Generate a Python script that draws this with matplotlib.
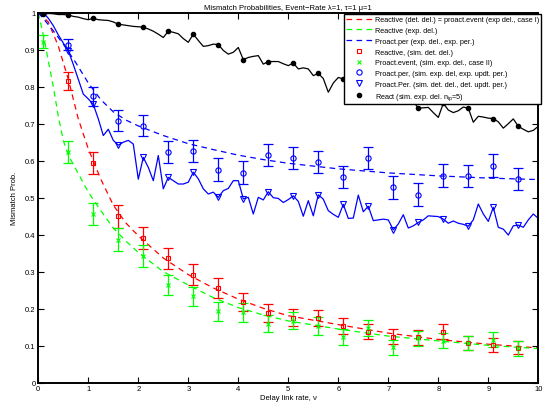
import matplotlib
matplotlib.use("Agg")
import matplotlib.pyplot as plt
import numpy as np

# ---------------- data ----------------
x_sim = [0.1, 0.6, 1.1, 1.6, 2.1, 2.6, 3.1, 3.6, 4.1, 4.6, 5.1, 5.6, 6.1, 6.6, 7.1, 7.6, 8.1, 8.6, 9.1, 9.6]

# analytic curves
x_red_th = [0, 0.2, 0.4, 0.6, 0.8, 1.0, 1.25, 1.5, 1.75, 2.0, 2.5, 3.0, 3.5, 4.0, 4.5, 5.0, 6.0, 7.0, 8.0, 9.0, 10.0]
y_red_th = [1.0, 0.975, 0.91, 0.82, 0.713, 0.632, 0.55, 0.48, 0.432, 0.397, 0.337, 0.292, 0.256, 0.226, 0.201, 0.181, 0.157, 0.134, 0.117, 0.104, 0.094]

x_green_th = [0, 0.1, 0.2, 0.3, 0.4, 0.5, 0.6, 0.8, 1.0, 1.25, 1.5, 1.75, 2.0, 2.5, 3.0, 3.5, 4.0, 4.5, 5.0, 6.0, 7.0, 8.0, 9.0, 10.0]
y_green_th = [1.0, 0.94, 0.87, 0.8, 0.72, 0.655, 0.615, 0.565, 0.515, 0.465, 0.418, 0.383, 0.352, 0.3, 0.264, 0.23, 0.203, 0.183, 0.167, 0.145, 0.126, 0.113, 0.101, 0.092]

x_blue_th = [0, 0.25, 0.5, 0.75, 1.0, 1.25, 1.5, 1.75, 2.0, 2.5, 3.0, 3.5, 4.0, 4.5, 5.0, 6.0, 7.0, 8.0, 9.0, 10.0]
y_blue_th = [1.0, 0.96, 0.915, 0.865, 0.81, 0.765, 0.732, 0.71, 0.694, 0.668, 0.646, 0.63, 0.615, 0.603, 0.593, 0.578, 0.567, 0.559, 0.553, 0.549]

# simulations with error bars
x_red_sim = x_sim[1:]
y_red_sim = [0.815, 0.594, 0.450, 0.391, 0.336, 0.292, 0.256, 0.218, 0.189, 0.175, 0.175, 0.153, 0.138, 0.124, 0.123, 0.138, 0.108, 0.102, 0.095]
e_red_sim = [0.025, 0.03, 0.031, 0.03, 0.029, 0.028, 0.027, 0.025, 0.024, 0.023, 0.022, 0.022, 0.021, 0.02, 0.02, 0.02, 0.019, 0.019, 0.018]

y_green_sim = [0.922, 0.623, 0.456, 0.387, 0.343, 0.265, 0.233, 0.193, 0.190, 0.159, 0.168, 0.154, 0.123, 0.147, 0.096, 0.120, 0.114, 0.108, 0.116, 0.093]
e_green_sim = [0.017, 0.03, 0.031, 0.03, 0.03, 0.027, 0.026, 0.025, 0.025, 0.023, 0.023, 0.024, 0.022, 0.022, 0.02, 0.021, 0.02, 0.019, 0.02, 0.02]

y_blue_sim = [1.0, 0.914, 0.774, 0.708, 0.695, 0.623, 0.626, 0.575, 0.568, 0.616, 0.607, 0.597, 0.557, 0.607, 0.528, 0.508, 0.559, 0.559, 0.587, 0.551]
e_blue_sim = [0.0, 0.015, 0.025, 0.029, 0.029, 0.03, 0.03, 0.031, 0.031, 0.03, 0.03, 0.03, 0.03, 0.03, 0.031, 0.031, 0.031, 0.03, 0.03, 0.03]

# simulated curves on a fine grid
x_fine = [round(0.1 * k, 1) for k in range(1, 101)]
y_blue_det = [1.0, 0.985, 0.965, 0.94, 0.918, 0.897, 0.86, 0.82, 0.78, 0.767,
              0.752, 0.713, 0.668, 0.685, 0.655, 0.642, 0.65, 0.655, 0.645, 0.55,
              0.609, 0.582, 0.546, 0.614, 0.524, 0.555, 0.546, 0.537, 0.537, 0.542,
              0.569, 0.551, 0.524, 0.51, 0.515, 0.501, 0.519, 0.525, 0.546, 0.546,
              0.497, 0.501, 0.456, 0.501, 0.494, 0.516, 0.50, 0.498, 0.487, 0.495,
              0.505, 0.49, 0.45, 0.492, 0.451, 0.508, 0.496, 0.465, 0.455, 0.447,
              0.482, 0.444, 0.445, 0.507, 0.462, 0.477, 0.438, 0.44, 0.442, 0.44,
              0.413, 0.429, 0.454, 0.418, 0.424, 0.433, 0.44, 0.451, 0.45, 0.449,
              0.442, 0.431, 0.437, 0.431, 0.428, 0.423, 0.44, 0.483, 0.456, 0.436,
              0.474, 0.42, 0.415, 0.399, 0.424, 0.426, 0.42, 0.44, 0.456, 0.444]
y_black = [0.997, 0.998, 0.997, 0.995, 0.995, 0.994, 0.99, 0.988, 0.984, 0.981,
           0.985, 0.981, 0.980, 0.979, 0.975, 0.969, 0.967, 0.965, 0.963, 0.962,
           0.961, 0.956, 0.950, 0.942, 0.933, 0.950, 0.947, 0.943, 0.93, 0.920,
           0.942, 0.925, 0.909, 0.911, 0.915, 0.914, 0.898, 0.888, 0.893, 0.906,
           0.873, 0.879, 0.882, 0.884, 0.861, 0.868, 0.868, 0.868, 0.862, 0.857,
           0.864, 0.848, 0.851, 0.848, 0.830, 0.836, 0.822, 0.785, 0.81, 0.825,
           0.821, 0.815, 0.80, 0.81, 0.79, 0.80, 0.785, 0.79, 0.775, 0.78,
           0.77, 0.775, 0.768, 0.765, 0.76, 0.742, 0.743, 0.744, 0.73, 0.717,
           0.755, 0.737, 0.73, 0.735, 0.745, 0.742, 0.704, 0.72, 0.718, 0.715,
           0.714, 0.705, 0.688, 0.70, 0.713, 0.693, 0.685, 0.678, 0.682, 0.693]

# markers on the simulated curves (every 0.5 starting at 0.1)
y_blue_tri = [y_blue_det[x_fine.index(v)] for v in x_sim]
y_black_dot = [y_black[x_fine.index(v)] for v in x_sim]

labels = ["Reactive (det. del.) = proact.event (exp del., case I)",
          "Reactive (exp. del.)",
          "Proact.per (exp. del., exp. per.)",
          "Reactive, (sim. det. del.)",
          "Proact.event, (sim. exp. del., case II)",
          "Proact.per, (sim. exp. del, exp. updt. per.)",
          "Proact.Per. (sim. det. del., det. updt. per.)",
          "React (sim. exp. del. n$_{\\mathregular{ip}}$=5)"]

# ---------------- plot ----------------
plt.rcParams['font.family'] = ['Liberation Sans', 'DejaVu Sans']
plt.rcParams['mathtext.fontset'] = 'custom'
plt.rcParams['mathtext.rm'] = 'Liberation Sans'
fig = plt.figure(figsize=(5.48, 4.06), dpi=100)
ax = fig.add_axes([38.3 / 548, (406 - 383.7) / 406, 500 / 548, 370 / 406])

R, G, B, K = (1, 0, 0), (0, 1, 0), (0, 0, 1), (0, 0, 0)
lw = 0.9
dash = (0, (4.5, 3.5))
fs = 5.5

h1, = ax.plot(x_red_th, y_red_th, color=R, lw=lw, ls=dash, label=labels[0])
h2, = ax.plot(x_green_th, y_green_th, color=G, lw=lw, ls=dash, label=labels[1])
h3, = ax.plot(x_blue_th, y_blue_th, color=B, lw=lw, ls=dash, label=labels[2])

ax.plot(x_fine, y_black, color=K, lw=lw)
ax.plot(x_fine, y_blue_det, color=B, lw=lw)

ax.errorbar(x_red_sim, y_red_sim, yerr=e_red_sim, fmt='none', ecolor=R, elinewidth=lw, capsize=3.5, capthick=lw)
ax.errorbar(x_sim, y_green_sim, yerr=e_green_sim, fmt='none', ecolor=G, elinewidth=lw, capsize=3.5, capthick=lw)
ax.errorbar(x_sim, y_blue_sim, yerr=e_blue_sim, fmt='none', ecolor=B, elinewidth=lw, capsize=3.5, capthick=lw)

h4, = ax.plot(x_red_sim, y_red_sim, ls='none', marker='s', ms=3.2, mfc='none', mec=R, mew=0.8, label=labels[3])
h5, = ax.plot(x_sim, y_green_sim, ls='none', marker='x', ms=2.8, mec=G, mew=0.8, label=labels[4])
h6, = ax.plot(x_sim, y_blue_sim, ls='none', marker='o', ms=3.8, mfc='none', mec=B, mew=0.8, label=labels[5])
h7, = ax.plot(x_sim, y_blue_tri, ls='none', marker='v', ms=3.8, mfc='none', mec=B, mew=0.8, label=labels[6])
h8, = ax.plot(x_sim, y_black_dot, ls='none', marker='o', ms=3.0, mfc=K, mec=K, label=labels[7])

ax.set_xlim(0, 10)
ax.set_ylim(0, 1)
ax.set_xticks(range(0, 11))
ax.set_yticks([i / 10 for i in range(11)])
ax.set_yticklabels(['0', '0.1', '0.2', '0.3', '0.4', '0.5', '0.6', '0.7', '0.8', '0.9', '1'])
ax.tick_params(direction='in', top=True, right=True, labelsize=fs, length=4, width=0.8, pad=2)
for s in ax.spines.values():
    s.set_linewidth(1.4)

ax.set_title("Mismatch Probabilities, Event\u2212Rate \u03bb=1, \u03c4=1 \u03bc=1", fontsize=fs, pad=3)
ax.set_xlabel("Delay link rate, \u03bd", fontsize=fs, labelpad=1)
ax.set_ylabel("Mismatch Prob.", fontsize=fs, labelpad=5)

leg = fig.legend(handles=[h1, h2, h3, h4, h5, h6, h7, h8], loc='upper right',
                 bbox_to_anchor=(541 / 548, (406 - 15) / 406), bbox_transform=fig.transFigure,
                 prop={'size': 5.25}, frameon=True, fancybox=False, framealpha=1, edgecolor='black',
                 handlelength=3.6, handletextpad=0.3, labelspacing=0.5, borderpad=0.3,
                 borderaxespad=0)
leg.get_frame().set_linewidth(1.0)

fig.savefig("out.png", dpi=100)
